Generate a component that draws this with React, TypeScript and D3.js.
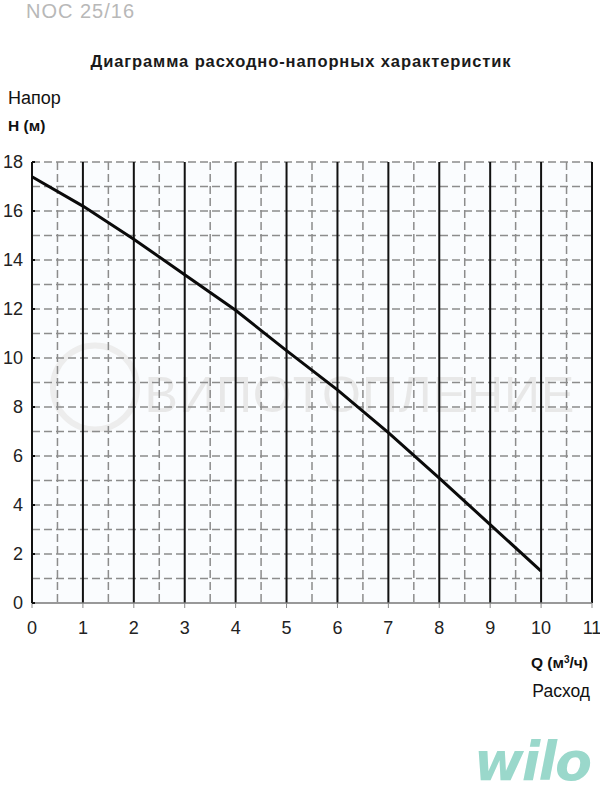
import React from "react";
import * as d3 from "d3";

const flowQ = [0, 1, 2, 3, 4, 5, 6, 7, 8, 9, 10];
const headH = [17.4, 16.2, 14.85, 13.4, 11.95, 10.3, 8.7, 6.95, 5.1, 3.2, 1.3];
const xTicks = [0, 1, 2, 3, 4, 5, 6, 7, 8, 9, 10, 11];
const yTicks = [0, 2, 4, 6, 8, 10, 12, 14, 16, 18];

export default function App() {
  const W = 600, H = 800;
  const x = d3.scaleLinear().domain([0, 11]).range([32, 592]);
  const y = d3.scaleLinear().domain([0, 18]).range([603, 162]);
  const line = d3.line<number>().x((_, i) => x(flowQ[i])).y((d) => y(d));
  const halfs = d3.range(0.5, 11, 1);
  const hLines = d3.range(1, 19, 1);
  const font = "'Liberation Sans', Arial, sans-serif";
  return (
    <svg width={W} height={H} style={{ position: "absolute", left: 0, top: 0 }} fontFamily={font}>
      <rect x={0} y={0} width={W} height={H} fill="#fff" />
      <text x={26} y={18} fontSize={20} fill="#b8b8b8" letterSpacing={1}>NOC 25/16</text>
      <text x={301} y={67} fontSize={16.5} fontWeight="bold" textAnchor="middle" fill="#1a1a1a" letterSpacing={0.9}>Диаграмма расходно-напорных характеристик</text>
      <text x={8} y={104} fontSize={18} fill="#111">Напор</text>
      <text x={8} y={131} fontSize={15.5} fontWeight="bold" fill="#111">H (м)</text>
      <rect x={x(0)} y={y(18)} width={x(11) - x(0)} height={y(0) - y(18)} fill="#fafcfe" />
      {/* watermark */}
      <text x={360} y={y(7.8)} fontSize={50} textAnchor="middle" fill="#e8e8e8" letterSpacing={1}>ВИПОТОПЛЕНИЕ</text>
      <circle cx={95} cy={y(8.8)} r={42} fill="none" stroke="#ededed" strokeWidth={6} />
      {/* dashed horizontal grid */}
      {hLines.map((v) => (
        <line key={"h" + v} x1={x(0)} x2={x(11)} y1={y(v)} y2={y(v)} stroke="#8c8c8c" strokeWidth={1.5} strokeDasharray="8,4" />
      ))}
      {/* dashed half verticals */}
      {halfs.map((v) => (
        <line key={"hv" + v} x1={x(v)} x2={x(v)} y1={y(18)} y2={y(0)} stroke="#8c8c8c" strokeWidth={1.5} strokeDasharray="8,4" />
      ))}
      {/* solid integer verticals */}
      {xTicks.map((v) => (
        <line key={"v" + v} x1={x(v)} x2={x(v)} y1={y(18)} y2={y(0)} stroke="#111" strokeWidth={2} />
      ))}
      {/* bottom axis */}
      <line x1={x(0)} x2={x(11)} y1={y(0)} y2={y(0)} stroke="#777" strokeWidth={1.5} />
      {xTicks.map((v) => (
        <line key={"xt" + v} x1={x(v)} x2={x(v)} y1={y(0)} y2={y(0) + 5} stroke="#888" strokeWidth={1} />
      ))}
      {yTicks.map((v) => (
        <line key={"yt" + v} x1={x(0)} x2={x(0) + 3} y1={y(v)} y2={y(v)} stroke="#111" strokeWidth={2} />
      ))}
      {/* curve */}
      <path d={line(headH) || ""} fill="none" stroke="#0a0a0a" strokeWidth={3} />
      {/* tick labels */}
      {yTicks.map((v) => (
        <text key={"yl" + v} x={23} y={y(v) + 6} fontSize={18} textAnchor="end" fill="#222">{v}</text>
      ))}
      {xTicks.map((v) => (
        <text key={"xl" + v} x={x(v)} y={634} fontSize={18} textAnchor="middle" fill="#222">{v}</text>
      ))}
      <text x={588} y={668} fontSize={15.5} fontWeight="bold" textAnchor="end" fill="#111">
        Q (м<tspan fontSize={10} dy={-5}>3</tspan><tspan dy={5}>/ч)</tspan>
      </text>
      <text x={590} y={697} fontSize={17.5} textAnchor="end" fill="#111">Расход</text>
      <text x={590} y={780} fontSize={54} fontWeight="bold" fontStyle="italic" textAnchor="end" fill="#9ad8cb" fontFamily="'DejaVu Sans', sans-serif" letterSpacing={-2}>wilo</text>
    </svg>
  );
}
